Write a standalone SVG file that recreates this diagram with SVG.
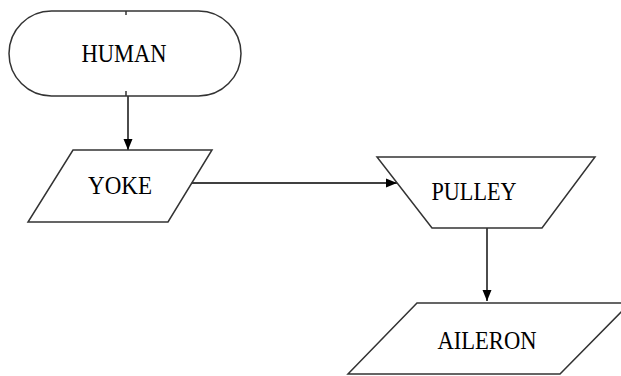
<svg xmlns="http://www.w3.org/2000/svg" width="621" height="376" viewBox="0 0 621 376">
<style>
.shape{fill:#fff;stroke:#333;stroke-width:1.5}
.lbl{font-family:"Liberation Serif","Times New Roman",serif;font-size:26px;fill:#000;text-anchor:middle}
.conn{stroke:#000;stroke-width:1.4;fill:none}
</style>
<defs>
<marker id="ah" markerWidth="12" markerHeight="12" refX="11" refY="5" orient="auto" markerUnits="userSpaceOnUse">
<path d="M0,0.5 L11,5 L0,9.5 Z" fill="#000"/>
</marker>
</defs>
<rect width="621" height="376" fill="#fff"/>
<g id="connectors">
<line class="conn" x1="128" y1="95" x2="128" y2="150" marker-end="url(#ah)"/>
<line class="conn" x1="190" y1="183" x2="397" y2="183" marker-end="url(#ah)"/>
<line class="conn" x1="487" y1="228" x2="487" y2="301" marker-end="url(#ah)"/>
</g>
<g id="human">
<rect class="shape" x="9" y="11" width="232" height="85" rx="42.5" ry="42.5"/>
<line x1="126" y1="11" x2="126" y2="15" stroke="#333" stroke-width="1.5"/>
<line x1="126" y1="91" x2="126" y2="96" stroke="#333" stroke-width="1.5"/>
<text class="lbl" x="124" y="62" textLength="85" lengthAdjust="spacingAndGlyphs">HUMAN</text>
</g>
<g id="yoke">
<polygon class="shape" points="73,150 212,150 168,222 28,222"/>
<text class="lbl" x="120" y="194" textLength="64" lengthAdjust="spacingAndGlyphs">YOKE</text>
</g>
<g id="pulley">
<polygon class="shape" points="377,157 595,157 542,228 432,228"/>
<text class="lbl" x="474" y="200" textLength="85" lengthAdjust="spacingAndGlyphs">PULLEY</text>
</g>
<g id="aileron">
<polygon class="shape" points="417,303 630,303 560,374 348,374"/>
<text class="lbl" x="487" y="349" textLength="99" lengthAdjust="spacingAndGlyphs">AILERON</text>
</g>
</svg>
